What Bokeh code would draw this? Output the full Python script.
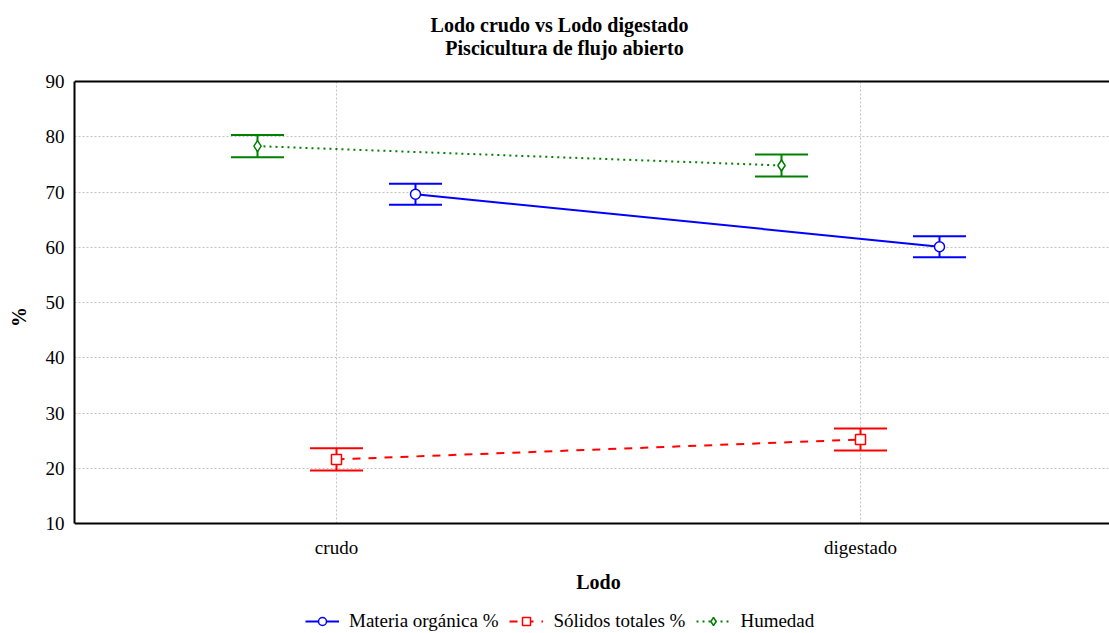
from bokeh.plotting import figure
from bokeh.models import (Range1d, FixedTicker, Whisker, TeeHead, ColumnDataSource,
                          Legend, LegendItem, Span, Label)
from bokeh.core.properties import value
from bokeh.embed import file_html
from bokeh.resources import INLINE

# ---- data ----
categories = ["crudo", "digestado"]
materia = [69.6, 60.1]
materia_err = [1.9, 1.9]
solidos = [21.6, 25.2]
solidos_err = [2.0, 2.0]
humedad = [78.3, 74.8]
humedad_err = [2.0, 2.0]
y_ticks = [10, 20, 30, 40, 50, 60, 70, 80, 90]
title_lines = ["Lodo crudo vs Lodo digestado", "Piscicultura de flujo abierto"]
x_label = "Lodo"
y_label = "%"

FONT = "Liberation Serif"
FS = "19px"

# ---- layout (pixels) ----
W, H = 1109, 633
LEFT = 74
TOP_PX, BOT_PX = 81, 523          # pixel rows of y=90 and y=10
CAT_W = 524                        # pixels per category
YMIN, YMAX = y_ticks[0], y_ticks[-1]
PPU = (BOT_PX - TOP_PX) / (YMAX - YMIN)


def dx(px):
    return (px - LEFT) / CAT_W


def dy(py):
    return YMAX - (py - TOP_PX) / PPU


p = figure(width=W, height=H, output_backend="svg", toolbar_location=None,
           x_range=Range1d(dx(LEFT), dx(W)), y_range=Range1d(dy(H), dy(0)),
           min_border_left=LEFT, min_border_right=0, min_border_top=0, min_border_bottom=0)

p.outline_line_color = None
p.background_fill_color = "white"
p.border_fill_color = "white"

# x axis hidden (drawn manually below), y axis on the left
p.xaxis.visible = False
p.xgrid.visible = False
yax = p.yaxis[0]
yax.ticker = FixedTicker(ticks=y_ticks)
yax.bounds = (YMIN, YMAX)
yax.axis_line_width = 2
yax.axis_line_color = "black"
yax.major_tick_line_color = None
yax.minor_tick_line_color = None
yax.major_tick_out = 0
yax.major_tick_in = 0
yax.minor_tick_out = 0
yax.minor_tick_in = 0
yax.major_label_text_font = FONT
yax.major_label_text_font_size = FS
yax.major_label_text_color = "black"
yax.major_label_standoff = 10
yax.axis_label = y_label
yax.axis_label_text_font = FONT
yax.axis_label_text_font_size = "20px"
yax.axis_label_text_font_style = "bold"
yax.axis_label_text_color = "black"
yax.axis_label_standoff = 13

p.ygrid.grid_line_color = "#c4c4c4"
p.ygrid.grid_line_dash = "2 2"
p.ygrid.grid_line_width = 1

cat_x = [i + 0.5 for i in range(len(categories))]

# vertical grid lines at categories, only within the value range
p.segment(x0=cat_x, x1=cat_x, y0=[YMIN] * len(cat_x), y1=[YMAX] * len(cat_x),
          line_color="#c4c4c4", line_dash="2 2", line_width=1, level="underlay")

# frame lines: bottom axis and top border
p.add_layout(Span(location=YMIN, dimension="width", line_color="black", line_width=2))
p.add_layout(Span(location=YMAX, dimension="width", line_color="black", line_width=2))

# category tick labels and x axis label
p.text(x=cat_x, y=[dy(547)] * len(cat_x), text=categories, text_align="center",
       text_baseline="middle", text_font=value(FONT), text_font_size=value(FS),
       text_color="black")
p.add_layout(Label(x=dx(598), y=dy(581), text=x_label, text_align="center",
                   text_baseline="middle", text_font=FONT, text_font_size="20px",
                   text_font_style="bold", text_color="black"))

# title
for txt, cx, cy in zip(title_lines, [559, 564], [24, 47]):
    p.add_layout(Label(x=dx(cx), y=dy(cy), text=txt, text_align="center",
                       text_baseline="middle", text_font=FONT, text_font_size="20px",
                       text_font_style="bold", text_color="black"))

offset = 79 / CAT_W
cap = 53
series = [
    ("Materia orgánica %", materia, materia_err, "#0000FF", "solid", "circle", offset),
    ("Sólidos totales %", solidos, solidos_err, "#FF0000", "8 8", "square", 0.0),
    ("Humedad", humedad, humedad_err, "#008000", "2 4", "diamond", -offset),
]

items = []
for name, vals, errs, color, dash, marker, off in series:
    xs = [c + off for c in cat_x]
    src = ColumnDataSource(dict(x=xs, y=vals,
                                lo=[v - e for v, e in zip(vals, errs)],
                                hi=[v + e for v, e in zip(vals, errs)]))
    ln = p.line("x", "y", source=src, line_color=color, line_width=2, line_dash=dash)
    w = Whisker(source=src, base="x", lower="lo", upper="hi", dimension="height",
                line_color=color, line_width=2,
                upper_head=TeeHead(size=cap, line_color=color, line_width=2),
                lower_head=TeeHead(size=cap, line_color=color, line_width=2))
    p.add_layout(w)
    sc = p.scatter("x", "y", source=src, marker=marker, size=10 if marker != "diamond" else 11,
                   fill_color="white", line_color=color, line_width=1.5)
    items.append(LegendItem(label=name, renderers=[ln, sc]))

legend = Legend(items=items, orientation="horizontal", location=(231, 1),
                border_line_color=None, background_fill_alpha=0,
                label_text_font=FONT, label_text_font_size=FS, label_text_color="black",
                glyph_width=34, glyph_height=20, label_standoff=10, spacing=11,
                padding=0, margin=0)
p.add_layout(legend, "center")

open("out.html", "w").write(file_html(p, INLINE))
